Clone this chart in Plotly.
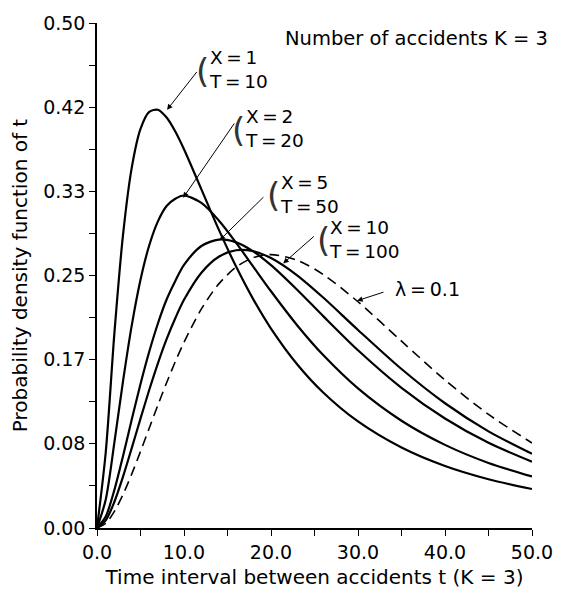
import plotly.graph_objects as go

# Time interval t (K=3)
t = [0, 1, 2, 3, 4, 5, 6, 7, 8, 9, 10, 12, 14, 16, 18, 20, 23, 26, 30, 35, 40, 45, 50]

# Probability density function of t
pdf_x1_t10 = [0.0, 0.0745, 0.1929, 0.2909, 0.3570, 0.3951, 0.4120, 0.4141, 0.4064, 0.3926,
              0.3750, 0.3353, 0.2954, 0.2586, 0.2259, 0.1975, 0.1622, 0.1342, 0.1055, 0.0797,
              0.0614, 0.0483, 0.0386]
pdf_x2_t20 = [0.0, 0.0280, 0.0847, 0.1459, 0.2009, 0.2458, 0.2797, 0.3036, 0.3188, 0.3260,
              0.3292, 0.3219, 0.3045, 0.2823, 0.2583, 0.2344, 0.2008, 0.1712, 0.1382, 0.1062,
              0.0823, 0.0644, 0.0510]
pdf_x5_t50 = [0.0, 0.0113, 0.0378, 0.0716, 0.1076, 0.1425, 0.1745, 0.2025, 0.2262, 0.2446,
              0.2605, 0.2792, 0.2856, 0.2828, 0.2736, 0.2602, 0.2359, 0.2098, 0.1760, 0.1388,
              0.1084, 0.0843, 0.0656]
pdf_x10_t100 = [0.0, 0.0075, 0.0260, 0.0511, 0.0793, 0.1083, 0.1366, 0.1631, 0.1870, 0.2077,
                0.2259, 0.2528, 0.2686, 0.2750, 0.2740, 0.2673, 0.2502, 0.2282, 0.1961, 0.1574,
                0.1235, 0.0957, 0.0735]
pdf_lambda01 = [0.0, 0.0045, 0.0164, 0.0333, 0.0536, 0.0758, 0.0988, 0.1217, 0.1438, 0.1647,
                0.1839, 0.2169, 0.2417, 0.2584, 0.2678, 0.2707, 0.2652, 0.2510, 0.2240, 0.1850,
                0.1465, 0.1125, 0.0842]

y_tick_vals = [0, 1/12, 2/12, 3/12, 4/12, 5/12, 6/12]
y_tick_text = ["0.00", "0.08", "0.17", "0.25", "0.33", "0.42", "0.50"]
x_tick_vals = [0, 10, 20, 30, 40, 50]
x_tick_text = ["0.0", "10.0", "20.0", "30.0", "40.0", "50.0"]

FONT = "DejaVu Sans, Liberation Sans, sans-serif"
TS = "\u2009"  # thin space around '='

fig = go.Figure()
for ys in [pdf_x1_t10, pdf_x2_t20, pdf_x5_t50, pdf_x10_t100]:
    fig.add_trace(go.Scatter(x=t, y=ys, mode="lines",
                             line=dict(color="black", width=2.2, shape="spline", smoothing=0.8),
                             showlegend=False, hoverinfo="skip"))
fig.add_trace(go.Scatter(x=t, y=pdf_lambda01, mode="lines",
                         line=dict(color="black", width=1.6, dash="10px,6px", shape="spline", smoothing=0.8),
                         showlegend=False, hoverinfo="skip"))

labels = [
    (f"X{TS}={TS}1<br>T{TS}={TS}10", 12.64, 0.4538, 12.10, (11.6, 0.453, 8.05, 0.414)),
    (f"X{TS}={TS}2<br>T{TS}={TS}20", 16.78, 0.3954, 16.30, (15.9, 0.402, 9.9, 0.327)),
    (f"X{TS}={TS}5<br>T{TS}={TS}50", 20.80, 0.3303, 20.30, (19.3, 0.329, 14.1, 0.285)),
    (f"X{TS}={TS}10<br>T{TS}={TS}100", 26.44, 0.2860, 25.98, (25.1, 0.290, 21.4, 0.262)),
]
annotations = []
for text, lx, ly, px, (ax, ay, hx, hy) in labels:
    annotations.append(dict(x=lx, y=ly, xref="x", yref="y", text=text, showarrow=False,
                            xanchor="left", yanchor="middle", align="left",
                            font=dict(family=FONT, size=18.5, color="black")))
    annotations.append(dict(x=px, y=ly, xref="x", yref="y", text="(", showarrow=False,
                            xanchor="center", yanchor="middle", yshift=-1,
                            font=dict(family="DejaVu Sans ExtraLight, DejaVu Sans, sans-serif",
                                      size=34, color="#333")))
    annotations.append(dict(x=hx, y=hy, ax=ax, ay=ay, xref="x", yref="y", axref="x", ayref="y",
                            text="", showarrow=True, arrowhead=2, arrowsize=1.1, arrowwidth=1,
                            arrowcolor="black"))

annotations.append(dict(x=34.0, y=0.2364, xref="x", yref="y", text=f"λ{TS}={TS}0.1", showarrow=False,
                        xanchor="left", yanchor="middle",
                        font=dict(family=FONT, size=19, color="black")))
annotations.append(dict(x=29.9, y=0.225, ax=33.1, ay=0.234, xref="x", yref="y", axref="x", ayref="y",
                        text="", showarrow=True, arrowhead=2, arrowsize=1.1, arrowwidth=1,
                        arrowcolor="black"))
annotations.append(dict(x=0.428, y=0.97, xref="paper", yref="paper", text="Number of accidents K = 3",
                        showarrow=False, xanchor="left", yanchor="middle",
                        font=dict(family=FONT, size=19.5, color="black")))

fig.update_layout(
    width=567, height=597,
    margin=dict(l=97, r=35, t=14, b=69),
    paper_bgcolor="white", plot_bgcolor="white",
    font=dict(family=FONT, size=19, color="black"),
    annotations=annotations,
    xaxis=dict(range=[0, 50], tickvals=x_tick_vals, ticktext=x_tick_text,
               showline=True, linecolor="black", linewidth=1.5, showgrid=False, zeroline=False,
               ticks="outside", ticklen=6, tickwidth=1.2, tickcolor="black",
               minor=dict(dtick=5, tick0=0, ticks="outside", ticklen=6, tickwidth=1.2, tickcolor="black"),
               title=dict(text="Time interval between accidents t (K = 3)", standoff=8,
                          font=dict(family=FONT, size=20)),
               tickfont=dict(family=FONT, size=19)),
    yaxis=dict(range=[0, 0.5], tickvals=y_tick_vals, ticktext=y_tick_text,
               showline=True, linecolor="black", linewidth=1.5, showgrid=False, zeroline=False,
               ticks="outside", ticklen=6, tickwidth=1.2, tickcolor="black",
               minor=dict(dtick=1/24, tick0=0, ticks="outside", ticklen=6, tickwidth=1.2, tickcolor="black"),
               title=dict(text="Probability density function of t", standoff=10,
                          font=dict(family=FONT, size=20)),
               tickfont=dict(family=FONT, size=19)),
)

fig.write_html("out.html")
